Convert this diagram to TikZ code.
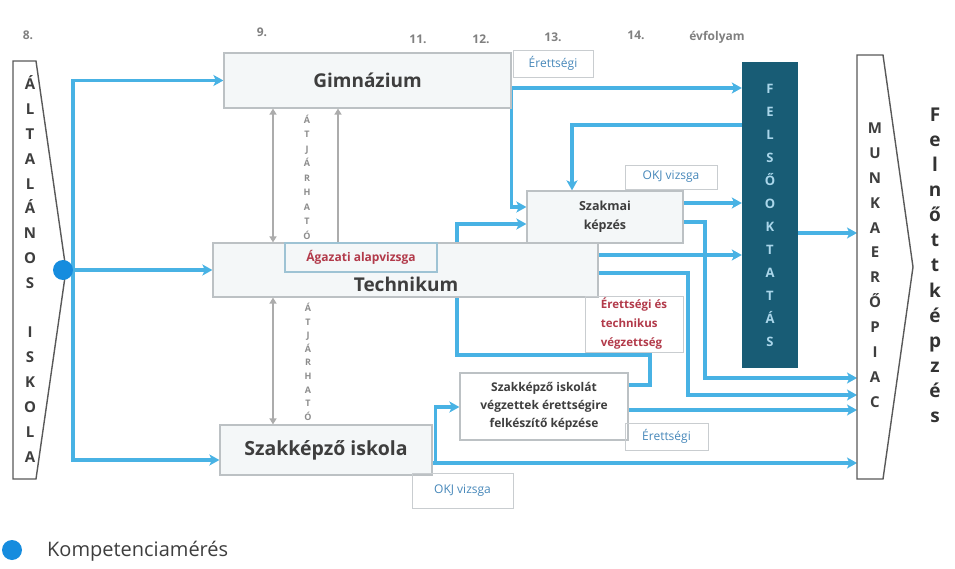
\documentclass[tikz,border=0pt]{standalone}
\usepackage{fontspec}
\setmainfont{Open Sans}
\usetikzlibrary{arrows.meta}

\definecolor{flowblue}{RGB}{72,178,228}
\definecolor{dotblue}{RGB}{22,140,222}
\definecolor{felteal}{RGB}{24,92,117}
\definecolor{felletter}{RGB}{170,214,234}
\definecolor{boxfill}{RGB}{244,247,248}
\definecolor{boxline}{RGB}{188,193,196}
\definecolor{lbltext}{RGB}{70,135,185}
\definecolor{redtext}{RGB}{178,58,74}
\definecolor{txtgray}{RGB}{62,62,62}
\definecolor{arrgray}{RGB}{172,172,172}

\pgfdeclarelayer{bg}
\pgfsetlayers{bg,main}

\tikzset{
  flow/.style={draw=flowblue, line width=3.6pt, -{Stealth[length=10pt,width=11pt,inset=2.5pt]}},
  pathbox/.style={draw=boxline, fill=boxfill, line width=1.2pt, inner sep=0pt, text=txtgray, align=center},
  tagbox/.style={draw=boxline!80, line width=0.8pt, inner sep=0pt, text=lbltext, font=\fontsize{12}{14}\selectfont},
  chevline/.style={draw=black!65, line width=1.4pt, fill=white},
  chevletter/.style={font=\fontsize{15}{15}\selectfont\bfseries, text=txtgray, inner sep=0pt, text height=11pt, text depth=0pt},
  felsoletter/.style={font=\fontsize{13}{13}\selectfont\bfseries, text=felletter, inner sep=0pt, text height=9.5pt, text depth=0pt},
  felnottletter/.style={font=\fontsize{19}{19}\selectfont\bfseries, text=black!80, inner sep=0pt, text height=10pt, text depth=0pt},
  swaptxt/.style={font=\fontsize{9}{9}\selectfont\bfseries, text=black!45, inner sep=0pt, text height=7pt, text depth=0pt},
  swaparrow/.style={draw=arrgray, line width=1.8pt, arrows={Triangle[length=6pt,width=7pt]-Triangle[length=6pt,width=7pt]}},
  swapone/.style={draw=arrgray, line width=1.8pt, arrows={-Triangle[length=6pt,width=7pt]}},
  colnum/.style={font=\fontsize{12}{12}\selectfont\bfseries, text=black!50, inner sep=0pt},
}

\begin{document}
\begin{tikzpicture}[x=1pt,y=-1pt]
\useasboundingbox (0,0) rectangle (955,569);
% Year labels
\node[colnum] (c8) at (28,35) {8.};
\node[colnum] (c9) at (262,32) {9.};
\node[colnum] (c11) at (418,39) {11.};
\node[colnum] (c12) at (481,39) {12.};
\node[colnum] (c13) at (553,37) {13.};
\node[colnum] (c14) at (636,35) {14.};
\node[colnum] (cev) at (717,37) {évfolyam};
% Általános iskola
\draw[chevline] (13,61) -- (36,61) -- (66,270) -- (36,479) -- (13,479) -- cycle;
\coordinate (altsp) at (73,270);
\foreach \c [count=\i] in {Á,L,T,A,L,Á,N,O,S}
  \node[chevletter] (alt-\i) at (30,{84+(\i-1)*24.9}) {\c};
\foreach \c [count=\i] in {I,S,K,O,L,A}
  \node[chevletter] (isk-\i) at (30,{332+(\i-1)*24.9}) {\c};
\node[circle, fill=dotblue, minimum size=20pt, inner sep=0pt] (km) at (63,270) {};
% Munkaerőpiac and Felnőttképzés
\draw[chevline] (857,55) -- (883,55) -- (913,267) -- (883,479) -- (857,479) -- cycle;
\coordinate (mun) at (857,267);
\foreach \c [count=\i] in {M,U,N,K,A,E,R,Ő,P,I,A,C}
  \node[chevletter] (mun-\i) at (875,{128+(\i-1)*24.9}) {\c};
\foreach \c [count=\i] in {F,e,l,n,ő,t,t,k,é,p,z,é,s}
  \node[felnottletter] (fk-\i) at (935,{117+(\i-1)*25}) {\c};
% School boxes
\node[pathbox, minimum width=287pt, minimum height=55pt, font=\fontsize{19}{22}\selectfont\bfseries] (gim) at (367.5,80.5) {Gimnázium};
\node[pathbox, minimum width=385pt, minimum height=54pt] (tech) at (405.5,270) {};
\node[font=\fontsize{19}{22}\selectfont\bfseries, text=txtgray, inner sep=0pt] (techlbl) at (406,284) {Technikum};
\node[pathbox, draw=cyan!25!boxline, minimum width=152pt, minimum height=29pt, text=redtext, font=\fontsize{12}{14}\selectfont\bfseries] (alap) at (361,257.5) {Ágazati alapvizsga};
\node[pathbox, minimum width=156pt, minimum height=52pt, font=\fontsize{12.5}{19}\selectfont\bfseries] (szm) at (605,217) {Szakmai\\képzés};
\node[pathbox, minimum width=212pt, minimum height=50pt, font=\fontsize{19.5}{22}\selectfont\bfseries] (szi) at (326,450) {Szakképző iskola};
\node[pathbox, fill=white, minimum width=168pt, minimum height=67pt, font=\fontsize{12}{18}\selectfont\bfseries] (prep) at (544,406.5) {Szakképző iskolát\\végzettek érettségire\\felkészítő képzése};
% Felsőoktatás
\node[fill=felteal, minimum width=56pt, minimum height=306pt, inner sep=0pt] (fel) at (770,215) {};
\foreach \c [count=\i] in {F,E,L,S,Ő,O,K,T,A,T,Á,S}
  \node[felsoletter] (fel-\i) at (770,{89+(\i-1)*23}) {\c};
% Exam labels
\node[tagbox, minimum width=80pt, minimum height=27pt] (ere1) at (553,63.5) {Érettségi};
\node[tagbox, minimum width=92pt, minimum height=24pt] (okj1) at (671,177) {OKJ vizsga};
\node[tagbox, minimum width=98pt, minimum height=56pt, text=redtext, align=left, font=\fontsize{11.5}{19}\selectfont\bfseries] (tev) at (634,324) {Érettségi és\\technikus\\végzettség};
\node[tagbox, minimum width=83pt, minimum height=27pt] (ere2) at (666.5,436.5) {Érettségi};
\node[tagbox, minimum width=101pt, minimum height=35pt] (okj2) at (462.5,490.5) {OKJ vizsga};
% Átjárhatóság
\draw[swaparrow] (gim.south -| 273,0) -- (tech.north -| 273,0);
\draw[swapone] (tech.north -| 338,0) -- (gim.south -| 338,0);
\draw[swaparrow] (tech.south -| 273,0) -- (szi.north -| 273,0);
\foreach \c [count=\i] in {Á,T,J,Á,R,H,A,T,Ó}
  \node[swaptxt] (atj-\i) at (307,{120+(\i-1)*14.5}) {\c};
\foreach \c [count=\i] in {Á,T,J,Á,R,H,A,T,Ó}
  \node[swaptxt] (atl-\i) at (308,{308+(\i-1)*13.6}) {\c};
% Legend
\node[circle, fill=dotblue, minimum size=20pt, inner sep=0pt] (legdot) at (12,550) {};
\node[anchor=west, font=\fontsize{20}{24}\selectfont, text=txtgray, inner sep=0pt] (legtxt) at (47,551) {Kompetenciamérés};
% Paths between the schools
\begin{pgfonlayer}{bg}
\draw[flow] (altsp) |- (gim.west);
\draw[flow] (altsp) |- (szi.west |- 0,460);
\draw[flow] (km.east) -- (tech.west);
\draw[flow] (gim.east |- 0,88) -- (fel.west |- 0,88);
\draw[flow] (gim.east |- 0,88) |- (szm.west |- 0,207);
\draw[flow] (fel.west |- 0,125) -| (szm.north -| 572,0);
\draw[flow] (szm.east |- 0,203) -- (fel.west |- 0,203);
\draw[flow] (szm.east |- 0,222) -| (705,378) -- (mun |- 0,378);
\draw[flow] (tech.east |- 0,255) -- (fel.west |- 0,255);
\draw[flow] (tech.east |- 0,273) -| (688,395) -- (mun |- 0,395);
\draw[flow] (prep.east |- 0,385) -| (650,355) -| (457,224) -- (szm.west |- 0,224);
\draw[flow] (prep.east |- 0,410) -- (mun |- 0,410);
\draw[flow] (szi.east |- 0,463) -- (mun |- 0,463);
\draw[flow] (szi.east |- 0,463) -- ++(3,0) |- (prep.west |- 0,407);
\draw[flow] (fel.east |- 0,233) -- (mun |- 0,233);
\end{pgfonlayer}
\end{tikzpicture}
\end{document}
